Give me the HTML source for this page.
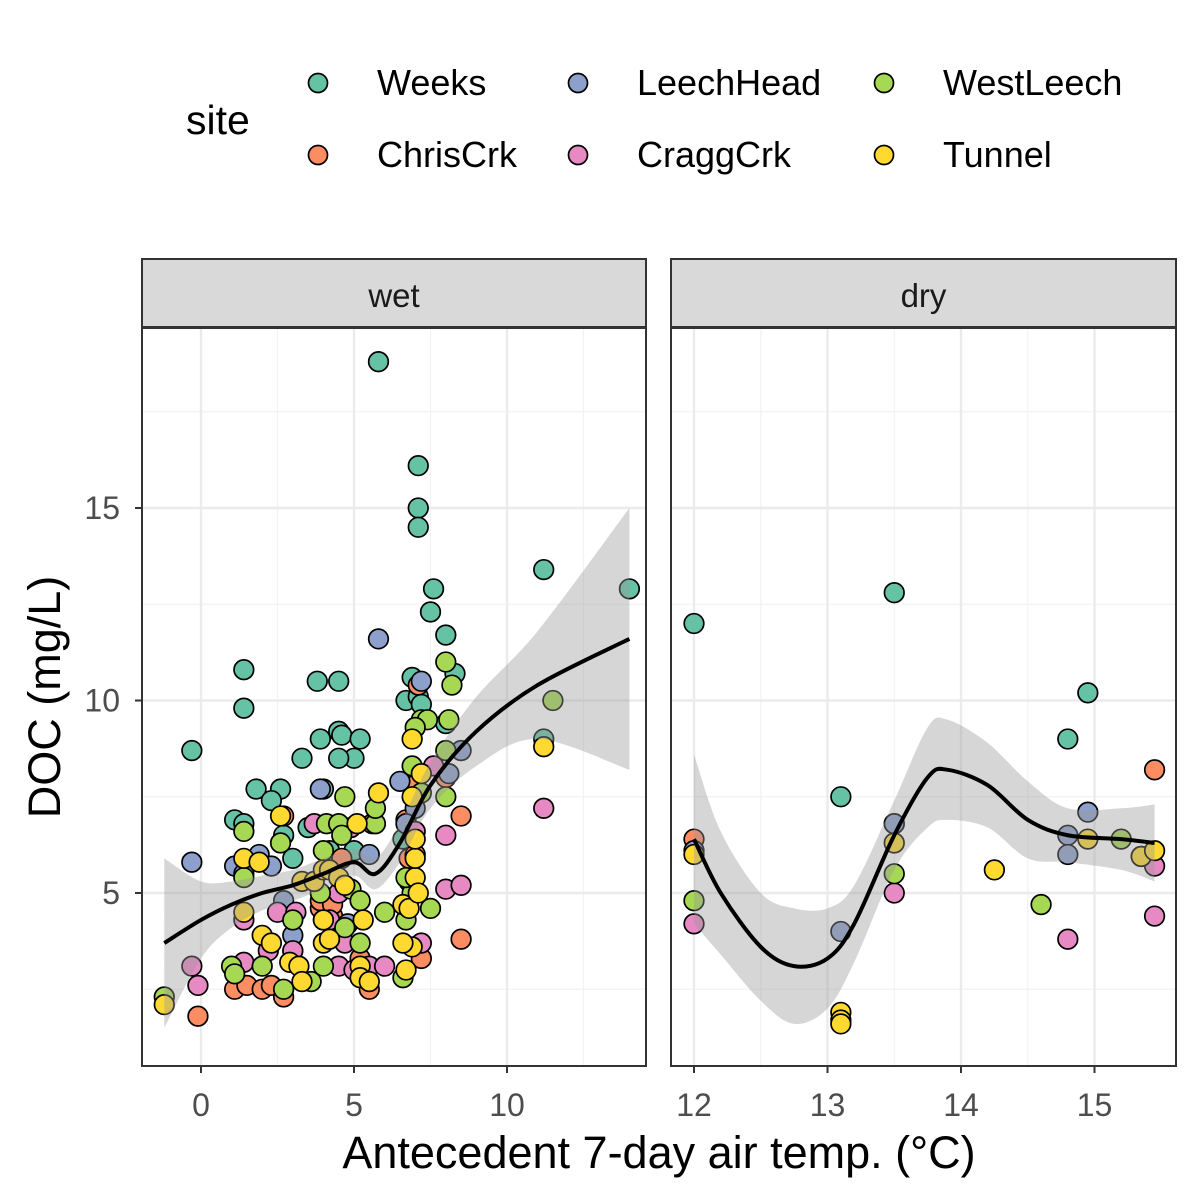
<!DOCTYPE html>
<html><head><meta charset="utf-8"><style>
body{margin:0;background:#fff;}
svg{display:block;font-family:"Liberation Sans",Arial,sans-serif;}
</style></head><body>
<svg id="chart" width="1200" height="1200" viewBox="0 0 1200 1200">
<text x="186" y="134" font-size="41">site</text>
<g id="legend"></g>
<g id="panels"></g>
<text x="659" y="1168" font-size="45" text-anchor="middle">Antecedent 7-day air temp. (°C)</text>
<text transform="translate(60,697) rotate(-90)" font-size="45" text-anchor="middle">DOC (mg/L)</text>
</svg>
<script>
const sites = ["Weeks","ChrisCrk","LeechHead","CraggCrk","WestLeech","Tunnel"];
const siteColors = ["#66C2A5","#FC8D62","#8DA0CB","#E78AC3","#A6D854","#FFD92F"];
const yTicks = [5,10,15];
const wetXTicks = [0,5,10];
const dryXTicks = [12,13,14,15];
// wet points [x,y] per site
const wetWeeks = [[5.8,18.8],[7.1,16.1],[7.1,15.0],[7.1,14.5],[7.6,12.9],[7.5,12.3],[8.0,11.7],[8.3,10.7],[6.9,10.6],[6.7,10.0],[7.1,10.1],[5.0,8.5],[4.5,10.5],[3.8,10.5],[1.4,10.8],[1.4,9.8],[-0.3,8.7],[1.1,6.9],[1.4,6.8],[1.8,7.7],[2.6,7.7],[2.3,7.4],[3.3,8.5],[3.9,9.0],[4.5,9.2],[4.6,9.1],[5.2,9.0],[4.0,7.7],[4.5,8.5],[3.0,5.9],[2.7,6.5],[11.2,13.4],[14.0,12.9],[11.2,9.0],[8.0,9.4],[7.2,9.9],[6.6,6.4],[4.2,6.1],[3.5,6.7],[5.0,6.1]];
const wetChrisCrk = [[-0.1,1.8],[1.1,2.5],[1.5,2.6],[2.0,2.5],[2.3,2.6],[2.7,2.3],[3.0,3.5],[3.9,4.6],[3.9,4.8],[4.3,4.4],[4.6,5.9],[5.2,3.3],[5.4,3.0],[5.5,2.5],[5.6,6.8],[6.7,6.9],[6.8,5.9],[7.0,6.0],[7.2,3.3],[8.5,7.0],[8.5,3.8],[7.1,10.4],[8.0,8.0],[4.3,4.7],[2.7,7.0],[7.0,7.8]];
const wetLeechHead = [[-0.3,5.8],[5.8,11.6],[7.2,10.5],[8.5,8.7],[6.5,7.9],[3.9,7.7],[1.1,5.7],[1.4,5.5],[1.9,6.0],[2.3,5.7],[5.5,6.0],[7.0,7.2],[6.7,6.8],[3.0,3.9],[4.8,4.2],[2.7,4.8],[8.1,8.1]];
const wetCraggCrk = [[-0.3,3.1],[-0.1,2.6],[1.4,4.3],[1.4,3.2],[2.2,3.5],[2.5,4.5],[3.0,3.5],[3.1,4.5],[3.7,6.8],[4.0,4.3],[4.2,4.3],[4.5,5.0],[4.5,3.1],[5.0,3.0],[5.5,3.1],[4.7,3.7],[6.0,3.1],[7.2,3.7],[6.8,5.3],[7.0,6.6],[8.0,6.5],[8.0,5.1],[8.5,5.2],[11.2,7.2],[7.6,8.3],[4.9,6.7]];
const wetWestLeech = [[-1.2,2.3],[1.0,3.1],[1.1,2.9],[1.4,6.6],[1.4,5.4],[2.0,3.1],[2.7,2.5],[2.6,6.3],[3.0,4.3],[3.6,2.7],[4.1,6.8],[4.0,6.1],[4.7,7.5],[4.5,6.8],[4.6,6.5],[4.9,5.1],[5.2,3.7],[5.2,4.8],[4.7,4.1],[5.7,6.8],[5.7,7.2],[6.0,4.5],[6.7,4.3],[6.9,5.0],[6.7,5.4],[6.6,2.8],[6.9,8.3],[7.2,9.5],[7.4,9.5],[7.0,9.3],[8.0,11.0],[8.2,10.4],[8.1,9.5],[8.0,7.5],[7.5,4.6],[11.5,10.0],[4.0,3.1],[3.9,5.0],[7.2,7.6],[8.0,8.7]];
const wetTunnel = [[-1.2,2.1],[1.4,4.5],[1.4,5.9],[1.9,5.8],[2.0,3.9],[2.3,3.7],[2.6,7.0],[2.9,3.2],[3.2,3.1],[3.3,2.7],[3.3,5.3],[3.7,5.3],[4.0,5.6],[4.2,5.6],[4.5,5.4],[4.7,5.2],[4.0,3.7],[5.2,3.1],[5.2,2.8],[5.3,4.3],[5.5,2.7],[5.8,7.6],[5.1,6.8],[6.6,4.7],[6.8,4.6],[6.7,3.0],[6.9,3.6],[7.0,5.4],[7.0,5.9],[7.0,6.4],[7.1,5.0],[6.9,7.5],[6.9,9.0],[7.2,8.1],[6.6,3.7],[11.2,8.8],[4.0,4.3],[4.2,3.8]];
const dryWeeks = [[12,12.0],[13.1,7.5],[13.5,12.8],[14.8,9.0],[14.95,10.2],[13.5,6.8]];
const dryChrisCrk = [[12,6.4],[15.45,8.2]];
const dryLeechHead = [[12,6.1],[13.1,4.0],[13.5,6.8],[14.8,6.5],[14.8,6.0],[14.95,7.1]];
const dryCraggCrk = [[12,4.2],[13.5,5.0],[14.8,3.8],[15.45,5.7],[15.45,4.4]];
const dryWestLeech = [[12,4.8],[13.5,5.5],[14.6,4.7],[15.2,6.4],[15.35,5.95]];
const dryTunnel = [[12,6.0],[13.1,1.9],[13.1,1.7],[13.1,1.6],[13.5,6.3],[14.25,5.6],[14.95,6.4],[15.35,5.95],[15.45,6.1]];
// smooth fits
const wetSmoothX = [-1.2,0,1,2,3,4,5,5.7,6.5,7.5,9,11,14];
const wetSmoothY = [3.7,4.3,4.7,5.0,5.2,5.5,5.8,5.5,6.3,7.8,9.2,10.4,11.6];
const wetSmoothSE = [2.2,1.0,0.6,0.45,0.4,0.4,0.35,0.4,0.5,0.6,0.9,1.4,3.4];
const drySmoothX = [12,12.2,12.5,12.75,13,13.2,13.5,13.75,13.9,14.2,14.5,14.8,15.2,15.45];
const drySmoothY = [6.4,5.0,3.6,3.1,3.3,4.2,6.5,8.0,8.2,7.8,6.9,6.5,6.4,6.3];
const drySmoothSE = [2.2,1.6,1.4,1.5,1.3,1.0,0.9,1.3,1.3,1.1,1.0,0.7,0.8,1.0];

const NS="http://www.w3.org/2000/svg";
function mk(tag,attrs,parent){const e=document.createElementNS(NS,tag);for(const k in attrs)e.setAttribute(k,attrs[k]);parent.appendChild(e);return e;}
function smoothPath(pts,move){
 let d=(move?'M':'L')+pts[0][0]+','+pts[0][1];
 for(let i=0;i<pts.length-1;i++){
  const p0=pts[Math.max(0,i-1)],p1=pts[i],p2=pts[i+1],p3=pts[Math.min(pts.length-1,i+2)];
  const c1=[p1[0]+(p2[0]-p0[0])/6,p1[1]+(p2[1]-p0[1])/6];
  const c2=[p2[0]-(p3[0]-p1[0])/6,p2[1]-(p3[1]-p1[1])/6];
  d+='C'+c1[0]+','+c1[1]+' '+c2[0]+','+c2[1]+' '+p2[0]+','+p2[1];
 }
 return d;
}
const svg=document.getElementById('chart');
const yScale=v=>893-(v-5)*38.5;
const PT=328,PB=1066;
const panels=[
 {name:"wet",x0:142,x1:646,sx:v=>201+v*30.6,major:wetXTicks,minor:[-2.5,2.5,7.5,12.5],pts:[wetWeeks,wetChrisCrk,wetLeechHead,wetCraggCrk,wetWestLeech,wetTunnel],sx_:wetSmoothX,sy_:wetSmoothY,se:wetSmoothSE},
 {name:"dry",x0:671,x1:1176,sx:v=>694+(v-12)*133.5,major:dryXTicks,minor:[12.5,13.5,14.5],pts:[dryWeeks,dryChrisCrk,dryLeechHead,dryCraggCrk,dryWestLeech,dryTunnel],sx_:drySmoothX,sy_:drySmoothY,se:drySmoothSE}
];
const pg=document.getElementById('panels');
panels.forEach(p=>{
 const g=mk('g',{},pg);
 
 
 const cid='clip-'+p.name;
 const cp=mk('clipPath',{id:cid},g);mk('rect',{x:p.x0,y:PT,width:p.x1-p.x0,height:PB-PT},cp);
 mk('rect',{x:p.x0,y:PT,width:p.x1-p.x0,height:PB-PT,fill:'#fff'},g);
 const grid=mk('g',{'clip-path':'url(#'+cid+')'},g);
 [2.5,7.5,12.5,17.5].forEach(v=>mk('line',{x1:p.x0,x2:p.x1,y1:yScale(v),y2:yScale(v),stroke:'#F2F2F2','stroke-width':1.2},grid));
 p.minor.forEach(v=>mk('line',{x1:p.sx(v),x2:p.sx(v),y1:PT,y2:PB,stroke:'#F2F2F2','stroke-width':1.2},grid));
 yTicks.forEach(v=>mk('line',{x1:p.x0,x2:p.x1,y1:yScale(v),y2:yScale(v),stroke:'#EBEBEB','stroke-width':2.4},grid));
 p.major.forEach(v=>mk('line',{x1:p.sx(v),x2:p.sx(v),y1:PT,y2:PB,stroke:'#EBEBEB','stroke-width':2.4},grid));
 const pts=mk('g',{'clip-path':'url(#'+cid+')'},g);
 p.pts.forEach((arr,si)=>arr.forEach(d=>{
  const c=mk('circle',{cx:p.sx(d[0]),cy:yScale(d[1]),r:9.8,fill:siteColors[si],stroke:'#000','stroke-width':1.7},pts);
  
  
 }));
 const upP=p.sx_.map((x,i)=>[p.sx(x),yScale(p.sy_[i]+p.se[i])]);
 const loP=p.sx_.map((x,i)=>[p.sx(x),yScale(p.sy_[i]-p.se[i])]).reverse();
 const band=mk('path',{d:smoothPath(upP,true)+smoothPath(loP,false)+'Z',fill:'#999','fill-opacity':0.4,'clip-path':'url(#'+cid+')'},g);
 
 
 const line=mk('path',{d:smoothPath(p.sx_.map((x,i)=>[p.sx(x),yScale(p.sy_[i])]),true),fill:'none',stroke:'#000','stroke-width':4,'stroke-linejoin':'round'},g);
 
 
 mk('rect',{x:p.x0,y:PT,width:p.x1-p.x0,height:PB-PT,fill:'none',stroke:'#333','stroke-width':2},g);
 const strip=mk('rect',{x:p.x0,y:259,width:p.x1-p.x0,height:68,fill:'#D9D9D9',stroke:'#333','stroke-width':2},g);
 
 
 const st=mk('text',{x:(p.x0+p.x1)/2,y:307,'font-size':33,'text-anchor':'middle',fill:'#1A1A1A'},g);st.textContent=p.name;
 
 
 p.major.forEach(v=>{
  mk('line',{x1:p.sx(v),x2:p.sx(v),y1:PB,y2:PB+7,stroke:'#333','stroke-width':2},g);
  const t=mk('text',{x:p.sx(v),y:1116,'font-size':32,'text-anchor':'middle',fill:'#4D4D4D'},g);t.textContent=v;
  
  
 });
});
yTicks.forEach(v=>{
 mk('line',{x1:135,x2:142,y1:yScale(v),y2:yScale(v),stroke:'#333','stroke-width':2},svg);
 const t=mk('text',{x:120,y:yScale(v)+11,'font-size':32,'text-anchor':'end',fill:'#4D4D4D'},svg);t.textContent=v;
 
 
});
const lg=document.getElementById('legend');
const lpos=[[318,83],[318,155],[578,83],[578,155],[884,83],[884,155]];
sites.forEach((s,i)=>{
 const [cx,cy]=lpos[i];
 const c=mk('circle',{cx:cx,cy:cy,r:9.5,fill:siteColors[i],stroke:'#000','stroke-width':1.7},lg);
 
 
 const t=mk('text',{x:cx+59,y:cy+12,'font-size':36},lg);t.textContent=s;
 
 
});
</script>
</body></html>
